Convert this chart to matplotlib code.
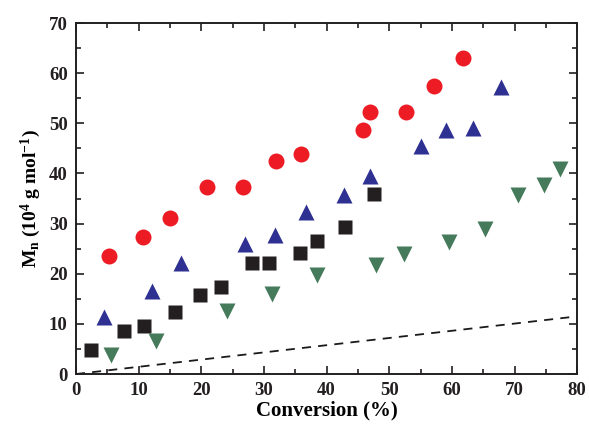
import matplotlib
matplotlib.use("Agg")
import matplotlib.pyplot as plt
from matplotlib.ticker import MultipleLocator

plt.rcParams["font.family"] = "Liberation Serif"
plt.rcParams["font.weight"] = "bold"
plt.rcParams["mathtext.fontset"] = "custom"
plt.rcParams["mathtext.rm"] = "Liberation Serif:bold"
plt.rcParams["mathtext.default"] = "rm"

# series (conversion %, Mn in 10^4 g/mol)
red_x = [5.3, 10.7, 15.0, 20.9, 26.7, 31.9, 35.9, 45.8, 46.9, 52.7, 57.2, 61.8]
red_y = [23.6, 27.3, 31.1, 37.3, 37.3, 42.5, 43.9, 48.7, 52.2, 52.2, 57.4, 63.1]

blue_x = [4.5, 12.2, 16.8, 26.9, 31.7, 36.7, 42.7, 47.0, 55.0, 59.1, 63.4, 67.8]
blue_y = [11.3, 16.5, 22.2, 25.9, 27.7, 32.3, 35.7, 39.4, 45.5, 48.7, 49.1, 57.3]

black_x = [2.4, 7.6, 10.8, 15.8, 19.8, 23.1, 28.1, 30.8, 35.8, 38.4, 43.0, 47.6]
black_y = [4.8, 8.5, 9.6, 12.3, 15.8, 17.4, 22.1, 22.1, 24.2, 26.5, 29.4, 36.0]

green_x = [5.6, 12.7, 24.1, 31.3, 38.4, 47.9, 52.3, 59.6, 65.3, 70.5, 74.7, 77.2]
green_y = [3.8, 6.6, 12.6, 16.0, 19.7, 21.7, 23.9, 26.3, 28.9, 35.7, 37.7, 40.8]

theory_x = [0, 80]
theory_y = [0, 11.5]

fig = plt.figure(figsize=(5.89, 4.26), dpi=100)
ax = fig.add_axes([0.129, 0.122, 0.851, 0.824])

ax.plot(theory_x, theory_y, ls=(0, (5, 4)), color="#1a1a1a", lw=1.3)
ax.plot(black_x, black_y, "s", color="#231F20", ms=10.5, mec="none")
ax.plot(green_x, green_y, "v", color="#457A5B", ms=12, mec="none")
ax.plot(blue_x, blue_y, "^", color="#2E3192", ms=12, mec="none")
ax.plot(red_x, red_y, "o", color="#ED1C24", ms=11.5, mec="none")

ax.set_xlim(0, 80)
ax.set_ylim(0, 70)
ax.xaxis.set_major_locator(MultipleLocator(10))
ax.xaxis.set_minor_locator(MultipleLocator(5))
ax.yaxis.set_major_locator(MultipleLocator(10))
ax.yaxis.set_minor_locator(MultipleLocator(5))
ax.tick_params(which="both", direction="in", top=True, right=True, width=1.2,
               labelsize=13.5, colors="#231F20")
ax.tick_params(which="major", length=6, pad=6)
ax.tick_params(which="minor", length=3.5)
for s in ax.spines.values():
    s.set_linewidth(1.4)
    s.set_color("#231F20")

ax.set_xlabel("Conversion (%)", fontsize=15, fontweight="bold", labelpad=1)
ax.set_ylabel(r"M$_\mathrm{n}$ (10$^\mathrm{4}$ g mol$^\mathrm{-1}$)", fontsize=14,
              fontweight="bold", labelpad=4)

fig.savefig("out.png", dpi=100)
